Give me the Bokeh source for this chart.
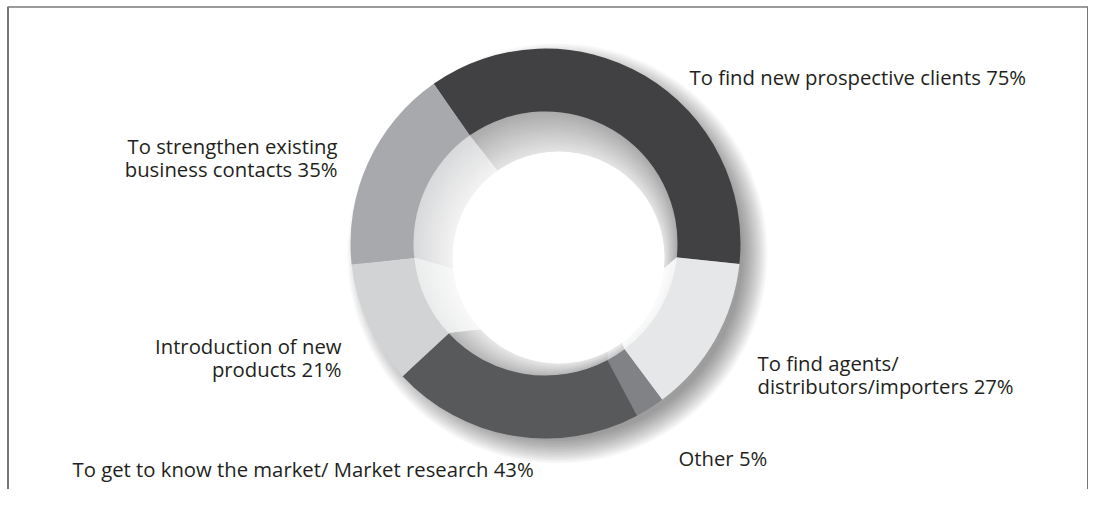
from bokeh.plotting import figure
from bokeh.models import Range1d, ColumnDataSource
from bokeh.embed import file_html
from bokeh.resources import INLINE
from bokeh.core.properties import value
import numpy as np

# ---- data ----
categories = ["To find new prospective clients", "To find agents/distributors/importers",
              "Other", "To get to know the market/ Market research",
              "Introduction of new products", "To strengthen existing business contacts"]
values = [75, 27, 5, 43, 21, 35]
colors = ["#414042", "#e6e7e8", "#808285", "#58595b", "#d1d3d4", "#a7a9ac"]
label_lines = [["To find new prospective clients 75%"],
               ["To find agents/", "distributors/importers 27%"],
               ["Other 5%"],
               ["To get to know the market/ Market research 43%"],
               ["Introduction of new", "products 21%"],
               ["To strengthen existing", "business contacts 35%"]]

# ---- layout ----
W, H = 1088, 489
def fx(px): return px
def fy(py): return H - py

CX, CY = fx(545), fy(243)
R_OUT, R_BAND = 195, 132
R_HOLE, HOLE_DX, HOLE_DY = 106, 13, 14
START_DEG = -35.0  # clockwise from top

p = figure(width=W, height=H, x_range=Range1d(0, W), y_range=Range1d(0, H),
           output_backend="svg", toolbar_location=None,
           x_axis_location=None, y_axis_location=None, min_border=0)
p.grid.visible = False
p.outline_line_color = None
p.background_fill_color = "white"
p.border_fill_color = "white"

# angles
vals = np.array(values, dtype=float)
frac = vals / vals.sum()
cum = np.concatenate([[0], np.cumsum(frac)]) * 360.0
theta_s = START_DEG + cum[:-1]
theta_e = START_DEG + cum[1:]
start = np.radians(90 - theta_s)
end = np.radians(90 - theta_e)

# shadow
for j in range(16):
    p.circle(x=[CX + 12], y=[CY - 10], radius=186 + j * 1.6,
             fill_color="black", fill_alpha=0.026, line_color=None)

# main ring
src = ColumnDataSource(dict(start=start, end=end, color=colors, cat=categories, val=values))
p.wedge(x=CX, y=CY, radius=R_OUT, start_angle="start", end_angle="end",
        direction="clock", fill_color="color", line_color=None, source=src)

# inner bevel band
def mix(c, t):
    c = c.lstrip("#")
    rgb = [int(c[i:i + 2], 16) for i in (0, 2, 4)]
    out = [int(round(v + (255 - v) * t)) for v in rgb]
    return "#%02x%02x%02x" % tuple(out)

N = 28
for k in range(N):
    t = k / (N - 1)
    r = R_BAND - t * (R_BAND - R_HOLE)
    cx = CX + t * HOLE_DX
    cy = CY - t * HOLE_DY
    base = 0.56 + 0.3 * t
    cols = [mix(c, base) for c in colors]
    p.wedge(x=cx, y=cy, radius=r, start_angle=list(start), end_angle=list(end),
            direction="clock", fill_color=cols, line_color=None)

p.circle(x=[CX + HOLE_DX], y=[CY - HOLE_DY], radius=R_HOLE, fill_color="white", line_color=None)

# labels  (screen coords: x, first baseline, align)
label_pos = [(689, 76, "left"), (757, 362, "left"), (678, 457, "left"),
             (72, 468, "left"), (341, 345, "right"), (337, 145, "right")]
LINE_H = 23
tx, ty, tt, ta = [], [], [], []
for lines, (x0, y0, al) in zip(label_lines, label_pos):
    for i, s in enumerate(lines):
        tx.append(fx(x0)); ty.append(fy(y0 + i * LINE_H)); tt.append(s); ta.append(al)
p.text(x=tx, y=ty, text=tt, text_align=ta, text_baseline="alphabetic",
       text_font=value("Open Sans"), text_font_size="20.3px", text_color="#231f20")

# frame lines
p.line(x=[7.5, 7.5], y=[0, fy(6.5)], line_color="#2b2b2b", line_width=1.3)
p.line(x=[1087.5, 1087.5], y=[0, fy(6.5)], line_color="#2b2b2b", line_width=1.3)
p.line(x=[7, 1088], y=[fy(6.5), fy(6.5)], line_color="#7a7a7a", line_width=1.6)

open("out.html", "w").write(file_html(p, INLINE))
